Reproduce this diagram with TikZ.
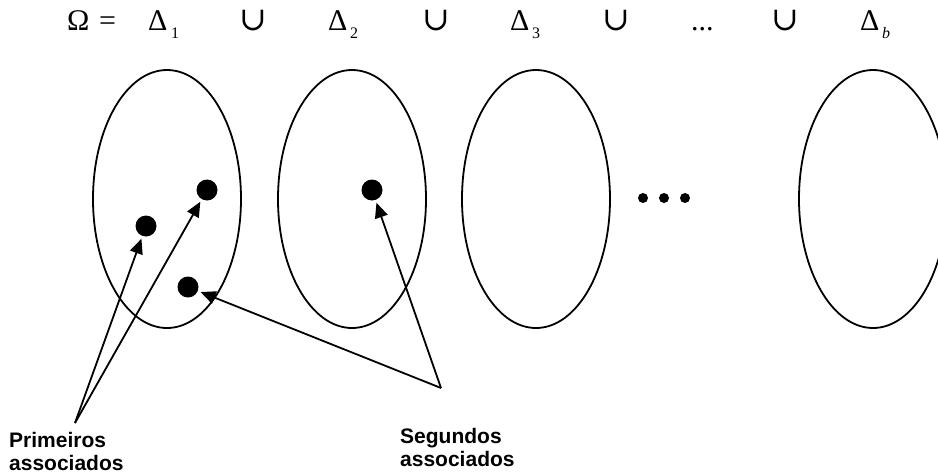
\documentclass[tikz,border=0pt]{standalone}
\usepackage{fontspec}
\setmainfont{Liberation Serif}
\newfontfamily\labelfont{Liberation Sans}
\newfontfamily\symfont{DejaVu Serif}
\usetikzlibrary{shapes.geometric,arrows.meta}

\begin{document}
\begin{tikzpicture}[x=1pt,y=-1pt,
  settext/.style={font=\fontsize{30}{36}\selectfont, inner sep=0pt, anchor=base west},
  subtext/.style={font=\fontsize{16}{19}\selectfont, inner sep=0pt, anchor=base west},
  unionsym/.style={font=\symfont\fontsize{33}{40}\selectfont, inner sep=0pt, anchor=base},
  block/.style={ellipse, draw, line width=1.8pt, minimum width=148pt, minimum height=258pt, inner sep=0pt},
  point/.style={circle, fill=black, minimum size=21pt, inner sep=0pt, outer sep=3pt},
  smalldot/.style={circle, fill=black, minimum size=10pt, inner sep=0pt},
  pointer/.style={line width=1.8pt, -{Triangle[length=15pt,width=13pt]}},
  caption/.style={font=\labelfont\bfseries\fontsize{21}{23}\selectfont, align=left, inner sep=0pt, anchor=north west}
]
\useasboundingbox (0,0) rectangle (938,474);

% equation along the top
\node[settext] (omega) at (67,30) {Ω};
\node[settext] (eq) at (99,30) {=};
\node[settext] (d1) at (148,30) {Δ};
\node[subtext] (d1s) at (171,38) {1};
\node[unionsym] (u1) at (253,30) {∪};
\node[settext] (d2) at (328,30) {Δ};
\node[subtext] (d2s) at (350,38) {2};
\node[unionsym] (u2) at (436,30) {∪};
\node[settext] (d3) at (510,30) {Δ};
\node[subtext] (d3s) at (532,38) {3};
\node[unionsym] (u3) at (616,30) {∪};
\node[settext] (dots) at (691,30) {...};
\node[unionsym] (u4) at (785,30) {∪};
\node[settext] (db) at (860,30) {Δ};
\node[subtext] (dbs) at (882,38) {\itshape b};

% the blocks
\node[block] (b1) at (167,199) {};
\node[block] (b2) at (352,199) {};
\node[block] (b3) at (536,199) {};
\node[block] (b4) at (873,199) {};

% horizontal ellipsis between the blocks
\node[smalldot] (e1) at (643,198) {};
\node[smalldot] (e2) at (664,198) {};
\node[smalldot] (e3) at (685,198) {};

% sampled points
\node[point] (pa) at (146,226) {};
\node[point] (pb) at (207,190) {};
\node[point] (pc) at (188,287) {};
\node[point] (pd) at (372,190) {};

% labels and their pointers
\coordinate (pj) at (75,423);
\coordinate (sj) at (441,388);
\node[caption] (prim) at (9,432) {Primeiros\\associados};
\node[caption] (seg) at (400,428) {Segundos\\associados};

\draw[pointer] (pj) -- (pa);
\draw[pointer] (pj) -- (pb);
\draw[pointer] (sj) -- (pc);
\draw[pointer] (sj) -- (pd);
\end{tikzpicture}
\end{document}
